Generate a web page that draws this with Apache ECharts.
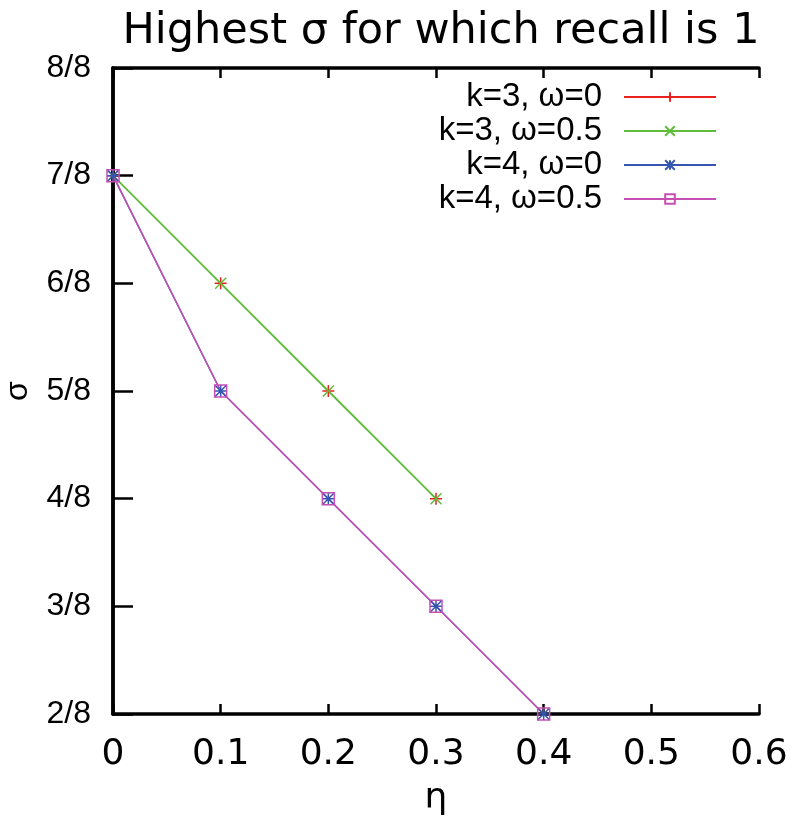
<!DOCTYPE html>
<html>
<head>
<meta charset="utf-8">
<script src="https://cdn.jsdelivr.net/npm/echarts@6/dist/echarts.min.js"></script>
<style>
  html, body { margin: 0; padding: 0; background: #fff; }
  #chart { width: 800px; height: 827px; }
</style>
</head>
<body>
<div id="chart"></div>
<script>
// sigma values are given in eighths
const k3Eta = [0, 0.1, 0.2, 0.3]
const k3Sigma = [7, 6, 5, 4]
const k4Eta = [0, 0.1, 0.2, 0.3, 0.4]
const k4Sigma = [7, 5, 4, 3, 2]
const seriesNames = ['k=3, ω=0', 'k=3, ω=0.5', 'k=4, ω=0', 'k=4, ω=0.5']

const PLUS = 'path://M1,0L1,2M0,1L2,1'
const CROSS = 'path://M0,0L2,2M2,0L0,2'
const STAR = 'path://M1,0L1,2M0,1L2,1M0,0L2,2M2,0L0,2'
const SQUARE = 'path://M0,0L2,0L2,2L0,2Z'

const pts = (xs, ys) => xs.map((x, i) => [x, ys[i]])

function mkSeries(name, data, color, symbol, size, lw) {
  return {
    name,
    type: 'line',
    data,
    clip: false,
    symbol,
    symbolSize: size,
    showAllSymbol: true,
    lineStyle: { color, width: lw },
    itemStyle: { color: 'none', borderColor: color, borderWidth: 1.5 },
    emphasis: { disabled: true }
  }
}

const chart = echarts.init(document.getElementById('chart'))

const frame = { lineStyle: { color: '#000', width: 3.5 } }
const tickStyle = { length: 10, lineStyle: { color: '#000', width: 2.5 } }

// tick-only axes pushed 10px into the plot so their outward ticks end on the frame
function tickAxis(extra) {
  return Object.assign({
    type: 'value',
    offset: -10,
    axisLine: { show: false },
    axisTick: tickStyle,
    axisLabel: { show: false },
    splitLine: { show: false }
  }, extra)
}

const xRange = { min: 0, max: 0.6, interval: 0.1 }
const yRange = { min: 2, max: 8, interval: 1 }

chart.setOption({
  animation: false,
  title: {
    text: 'Highest σ for which recall is 1',
    left: 436,
    textAlign: 'center',
    top: 5,
    textStyle: { fontFamily: 'DejaVu Sans', fontSize: 43, fontWeight: 'normal', color: '#000' }
  },
  grid: { left: 113, right: 41, top: 68, bottom: 113, containLabel: false, outerBoundsMode: 'none' },
  legend: {
    orient: 'vertical',
    right: 83,
    top: 80,
    padding: 0,
    align: 'right',
    itemWidth: 92,
    itemHeight: 12,
    itemGap: 0,
    data: seriesNames,
    textStyle: { fontFamily: 'Liberation Sans', fontSize: 33, lineHeight: 34, color: '#000', padding: [0, 17, 0, 0] }
  },
  xAxis: [Object.assign({
    type: 'value',
    name: 'η',
    nameLocation: 'middle',
    nameGap: 67,
    nameTextStyle: { fontFamily: 'DejaVu Sans', fontSize: 36, color: '#000' },
    axisLine: frame,
    axisTick: { show: false },
    axisLabel: { margin: 23, formatter: v => +v.toFixed(1) + '', fontFamily: 'DejaVu Sans', fontSize: 36, color: '#000' },
    splitLine: { show: false }
  }, xRange), Object.assign({
    type: 'value',
    position: 'top',
    axisLine: frame,
    axisTick: { show: false },
    axisLabel: { show: false },
    splitLine: { show: false }
  }, xRange),
    tickAxis(Object.assign({ position: 'bottom' }, xRange)),
    tickAxis(Object.assign({ position: 'top' }, xRange))
  ],
  yAxis: [Object.assign({
    type: 'value',
    name: 'σ',
    nameLocation: 'middle',
    nameRotate: 90,
    nameGap: 79,
    nameTextStyle: { fontFamily: 'Liberation Sans', fontSize: 32, color: '#000' },
    axisLine: frame,
    axisTick: { show: false },
    axisLabel: { margin: 22, formatter: v => v + '/8', fontFamily: 'Liberation Sans', fontSize: 32, color: '#000' },
    splitLine: { show: false }
  }, yRange), Object.assign({
    type: 'value',
    position: 'right',
    axisLine: frame,
    axisTick: { show: false },
    axisLabel: { show: false },
    splitLine: { show: false }
  }, yRange),
    tickAxis(Object.assign({ position: 'left' }, yRange)),
    tickAxis(Object.assign({ position: 'right' }, yRange))
  ],
  series: [
    mkSeries(seriesNames[0], pts(k3Eta, k3Sigma), '#e8201e', PLUS, 12, 1),
    mkSeries(seriesNames[1], pts(k3Eta, k3Sigma), '#5fbd3b', CROSS, 11, 1.8),
    mkSeries(seriesNames[2], pts(k4Eta, k4Sigma), '#3456b0', STAR, 12, 1.5),
    mkSeries(seriesNames[3], pts(k4Eta, k4Sigma), '#c64fb4', SQUARE, 12, 1.5)
  ]
})
</script>
</body>
</html>
